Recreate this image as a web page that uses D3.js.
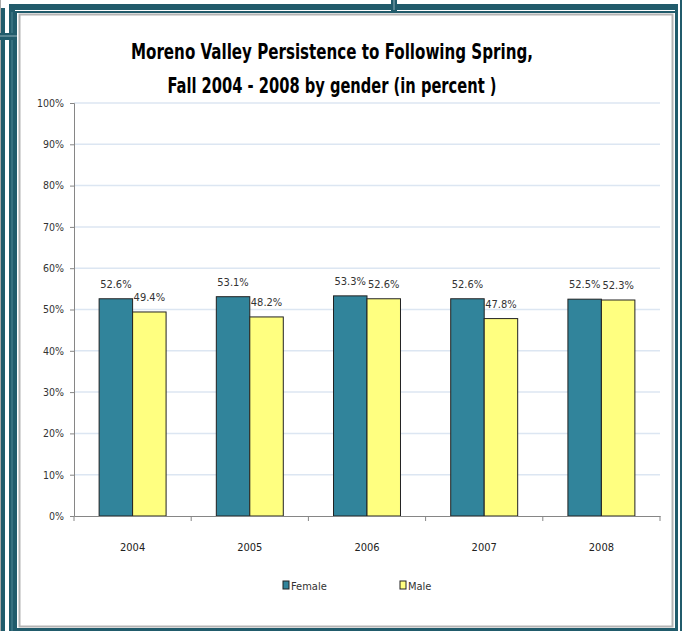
<!DOCTYPE html>
<html>
<head>
<meta charset="utf-8">
<script src="https://cdn.jsdelivr.net/npm/d3@7/dist/d3.min.js"></script>
<style>
  html, body { margin: 0; padding: 0; background: #fff; }
  svg { display: block; }
  .lbl { font-family: "Liberation Sans Narrow", "DejaVu Sans Condensed", "Arial Narrow", sans-serif; }
</style>
</head>
<body>
<div id="chart"></div>
<script>
const years = ["2004", "2005", "2006", "2007", "2008"];
const female = [52.6, 53.1, 53.3, 52.6, 52.5];
const male = [49.4, 48.2, 52.6, 47.8, 52.3];
const seriesNames = ["Female", "Male"];
const yTicks = [0, 10, 20, 30, 40, 50, 60, 70, 80, 90, 100];

const width = 682, height = 631;
const margin = { top: 103, right: 22, bottom: 115, left: 74 };
const teal = "#215b6b";
const colors = { Female: "#31849b", Male: "#ffff80" };

const svg = d3.select("#chart").append("svg")
  .attr("width", width).attr("height", height);

// frame around the chart
const frame = svg.append("g");
frame.append("rect").attr("x", 0).attr("y", 0).attr("width", 1).attr("height", height).attr("fill", "#aaa");
frame.append("rect").attr("x", 1).attr("y", 8).attr("width", 4).attr("height", height - 8).attr("fill", teal);
frame.append("rect").attr("x", 9).attr("y", 4).attr("width", 6).attr("height", height - 4).attr("fill", teal);
frame.append("rect").attr("x", 11.5).attr("y", 12).attr("width", 1).attr("height", height - 12).attr("fill", "#4f8594");
frame.append("rect").attr("x", 9).attr("y", 4).attr("width", 669).attr("height", 6).attr("fill", teal);
frame.append("rect").attr("x", 15).attr("y", 11).attr("width", 661).attr("height", 2).attr("fill", teal);
frame.append("rect").attr("x", 15).attr("y", 11).attr("width", 2).attr("height", height - 11).attr("fill", teal);
frame.append("rect").attr("x", 675).attr("y", 4).attr("width", 3).attr("height", height - 4).attr("fill", teal);
frame.append("rect").attr("x", 680).attr("y", 0).attr("width", 2).attr("height", height).attr("fill", teal);
frame.append("rect").attr("x", 15).attr("y", 628).attr("width", 663).attr("height", 3).attr("fill", teal);
frame.append("rect").attr("x", 19.5).attr("y", 14.5).attr("width", 653).attr("height", 612)
  .attr("fill", "#fff").attr("stroke", "#b4b4b4").attr("stroke-width", 2);
// small marks on the frame
frame.append("rect").attr("x", 0).attr("y", 33).attr("width", 17).attr("height", 7).attr("fill", teal);
frame.append("rect").attr("x", 0).attr("y", 35.5).attr("width", 17).attr("height", 1).attr("fill", "#8fb0ba");
frame.append("rect").attr("x", 391).attr("y", 0).attr("width", 6).attr("height", 12).attr("fill", teal);
frame.append("rect").attr("x", 393.5).attr("y", 0).attr("width", 1).attr("height", 10).attr("fill", "#8fb0ba");

// title
const title = svg.append("text")
  .attr("text-anchor", "middle")
  .attr("font-family", "'Liberation Sans Narrow', 'DejaVu Sans Condensed', sans-serif")
  .attr("font-weight", "bold").attr("font-size", 22).attr("fill", "#000");
title.append("tspan").attr("x", 332).attr("y", 59)
  .attr("textLength", 402).attr("lengthAdjust", "spacingAndGlyphs")
  .text("Moreno Valley Persistence  to Following Spring,");
title.append("tspan").attr("x", 332).attr("y", 93)
  .attr("textLength", 329).attr("lengthAdjust", "spacingAndGlyphs")
  .text("Fall 2004 - 2008 by gender (in percent )");

const x0 = d3.scaleBand().domain(years).range([margin.left, width - margin.right]);
const x1 = d3.scaleBand().domain(seriesNames).range([0, x0.bandwidth()]).paddingOuter(0.75);
const y = d3.scaleLinear().domain([0, 100]).range([height - margin.bottom, margin.top]);

// gridlines
svg.append("g").selectAll("line").data(yTicks.filter(d => d > 0)).enter().append("line")
  .attr("x1", margin.left).attr("x2", width - margin.right)
  .attr("y1", d => y(d)).attr("y2", d => y(d))
  .attr("stroke", "#dce6f2").attr("stroke-width", 1.5);

// y axis
const yAxis = svg.append("g").attr("class", "lbl")
  .attr("transform", `translate(${margin.left},0)`)
  .call(d3.axisLeft(y).tickValues(yTicks).tickFormat(d => d + "%").tickSize(4).tickPadding(6));
yAxis.select(".domain").attr("stroke", "#868686");
yAxis.selectAll(".tick line").attr("stroke", "#868686");
yAxis.selectAll("text").attr("font-size", 10.5).attr("fill", "#333")
  .attr("font-family", "'Liberation Sans Narrow', 'DejaVu Sans Condensed', sans-serif");

// bars
const rows = years.map((yr, i) => ({ year: yr, values: [
  { name: "Female", value: female[i] },
  { name: "Male", value: male[i] }
] }));

const groups = svg.append("g").selectAll("g").data(rows).enter().append("g")
  .attr("transform", d => `translate(${x0(d.year)},0)`);

groups.selectAll("rect").data(d => d.values).enter().append("rect")
  .attr("x", d => x1(d.name)).attr("width", x1.bandwidth())
  .attr("y", d => y(d.value)).attr("height", d => y(0) - y(d.value))
  .attr("fill", d => colors[d.name]).attr("stroke", "#222").attr("stroke-width", 1);

groups.selectAll("text").data(d => d.values).enter().append("text")
  .attr("class", "lbl")
  .attr("x", d => x1(d.name) + x1.bandwidth() / 2)
  .attr("y", d => y(d.value) - 11)
  .attr("text-anchor", "middle").attr("font-size", 11).attr("fill", "#333")
  .text(d => d.value.toFixed(1) + "%");

// x axis
const xAxis = svg.append("g").attr("class", "lbl")
  .attr("transform", `translate(0,${y(0)})`)
  .call(d3.axisBottom(x0).tickSize(0).tickPadding(27));
xAxis.select(".domain").attr("stroke", "#868686");
xAxis.selectAll("text").attr("font-size", 11).attr("fill", "#222")
  .attr("font-family", "'Liberation Sans Narrow', 'DejaVu Sans Condensed', sans-serif");
const edges = years.map(d => x0(d)).concat([x0.range()[1]]);
xAxis.selectAll(".edge").data(edges).enter().append("line")
  .attr("x1", d => d).attr("x2", d => d).attr("y1", 0).attr("y2", 5)
  .attr("stroke", "#868686");

// legend
const legend = svg.append("g").attr("class", "lbl");
const legendX = { Female: 283, Male: 400 };
seriesNames.forEach(name => {
  const g = legend.append("g").attr("transform", `translate(${legendX[name]},581)`);
  g.append("rect").attr("width", 6).attr("height", 8)
    .attr("fill", colors[name]).attr("stroke", "#222").attr("stroke-width", 1);
  g.append("text").attr("x", 8).attr("y", 8.5).attr("font-size", 11).attr("fill", "#333").text(name);
});
</script>
</body>
</html>
